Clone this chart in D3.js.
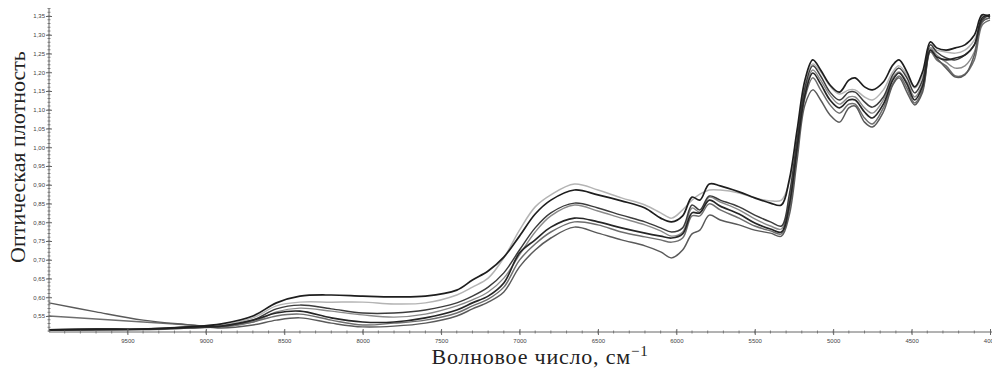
<!DOCTYPE html>
<html><head><meta charset="utf-8">
<script src="https://cdn.jsdelivr.net/npm/d3@7"></script>
<style>html,body{margin:0;padding:0;background:#fff;}svg{display:block;}</style>
</head><body>
<svg id="chart" width="992" height="369"></svg>
<script>
// ---- data ----
const wavenumbers = [10000,9700,9400,9100,8900,8700,8550,8400,8200,8000,7800,7600,7400,7300,7200,7100,7000,6900,6800,6650,6500,6350,6200,6100,6030,5960,5900,5850,5790,5720,5600,5500,5400,5330,5280,5230,5180,5130,5080,5020,4960,4900,4860,4800,4750,4680,4620,4580,4530,4480,4430,4380,4340,4280,4220,4160,4100,4050,4000];
const seriesA = [0.513,0.513,0.515,0.521,0.526,0.545,0.577,0.587,0.587,0.587,0.582,0.585,0.606,0.627,0.651,0.705,0.779,0.841,0.873,0.902,0.886,0.865,0.846,0.825,0.811,0.833,0.859,0.875,0.886,0.886,0.878,0.865,0.857,0.859,0.907,1.033,1.166,1.222,1.201,1.163,1.142,1.153,1.153,1.134,1.126,1.153,1.201,1.217,1.193,1.158,1.190,1.265,1.259,1.254,1.251,1.259,1.286,1.339,1.345];
const seriesB = [0.513,0.515,0.515,0.521,0.529,0.550,0.585,0.603,0.606,0.603,0.601,0.603,0.619,0.646,0.670,0.707,0.763,0.822,0.859,0.886,0.873,0.857,0.838,0.811,0.801,0.817,0.867,0.859,0.902,0.897,0.881,0.865,0.851,0.846,0.913,1.046,1.179,1.233,1.206,1.166,1.147,1.179,1.185,1.161,1.153,1.174,1.219,1.233,1.201,1.161,1.201,1.281,1.265,1.259,1.265,1.273,1.299,1.353,1.347];
const seriesC = [0.513,0.513,0.515,0.518,0.523,0.539,0.569,0.579,0.569,0.558,0.558,0.566,0.585,0.603,0.627,0.665,0.726,0.785,0.825,0.851,0.838,0.819,0.801,0.785,0.774,0.785,0.846,0.833,0.870,0.859,0.841,0.819,0.801,0.790,0.873,1.019,1.158,1.217,1.190,1.147,1.126,1.147,1.147,1.121,1.107,1.134,1.193,1.211,1.185,1.145,1.179,1.273,1.254,1.238,1.233,1.246,1.273,1.339,1.353];
const seriesD = [0.513,0.513,0.513,0.518,0.521,0.534,0.561,0.571,0.563,0.553,0.547,0.555,0.577,0.593,0.614,0.651,0.713,0.774,0.817,0.846,0.830,0.811,0.793,0.777,0.763,0.774,0.838,0.827,0.867,0.854,0.833,0.809,0.790,0.782,0.859,1.006,1.147,1.206,1.179,1.139,1.115,1.134,1.134,1.105,1.091,1.126,1.185,1.201,1.174,1.134,1.169,1.265,1.246,1.227,1.211,1.217,1.254,1.334,1.345];
const seriesE = [0.513,0.515,0.515,0.521,0.523,0.539,0.558,0.563,0.545,0.534,0.534,0.545,0.566,0.585,0.603,0.638,0.718,0.753,0.787,0.811,0.801,0.785,0.771,0.763,0.758,0.769,0.825,0.825,0.859,0.843,0.822,0.798,0.782,0.774,0.846,0.998,1.139,1.198,1.169,1.126,1.105,1.126,1.126,1.094,1.078,1.115,1.179,1.198,1.169,1.126,1.163,1.259,1.241,1.233,1.238,1.246,1.273,1.345,1.353];
const seriesF = [0.550,0.542,0.534,0.526,0.521,0.534,0.550,0.555,0.539,0.526,0.531,0.539,0.558,0.577,0.595,0.627,0.699,0.742,0.774,0.801,0.793,0.774,0.761,0.753,0.747,0.758,0.817,0.817,0.849,0.833,0.811,0.790,0.777,0.769,0.833,0.987,1.131,1.185,1.153,1.113,1.091,1.115,1.115,1.078,1.062,1.105,1.169,1.190,1.158,1.118,1.153,1.254,1.233,1.217,1.190,1.195,1.233,1.326,1.339];
const seriesG = [0.585,0.561,0.539,0.526,0.518,0.526,0.539,0.545,0.531,0.521,0.523,0.531,0.550,0.569,0.587,0.614,0.681,0.726,0.758,0.787,0.771,0.753,0.737,0.721,0.705,0.726,0.769,0.779,0.819,0.806,0.793,0.779,0.771,0.763,0.819,0.966,1.113,1.153,1.126,1.086,1.067,1.105,1.110,1.067,1.054,1.094,1.166,1.185,1.147,1.113,1.147,1.259,1.238,1.211,1.187,1.193,1.246,1.334,1.345];
const seriesNames = ["A","B","C","D","E","F","G"];
const xTicks = [9500,9000,8500,8000,7500,7000,6500,6000,5500,5000,4500,4000];
const yTicks = [0.55,0.60,0.65,0.70,0.75,0.80,0.85,0.90,0.95,1.00,1.05,1.10,1.15,1.20,1.25,1.30,1.35];
const yTitle = "Оптическая плотность";
const xTitle = "Волновое число, см";
const xTitleSup = "−1";

// ---- drawing ----
(function () {
const svg = d3.select("#chart");
const pLeft = 49, pRight = 990, pTop = 9, pBottom = 332;
const x = d3.scaleLinear().domain([10000, 4000]).range([pLeft, pRight]);
const y = d3.scaleLinear().domain([0.55, 1.35]).range([316, 16]);

const allSeries = [seriesA, seriesB, seriesC, seriesD, seriesE, seriesF, seriesG];
const colors = {A:"#b4b4b4", B:"#1e1e1e", C:"#3c3c3c", D:"#8a8a8a", E:"#262626", F:"#6e6e6e", G:"#5a5a5a"};
const widths = {A:1.5, B:1.7, C:1.5, D:1.4, E:1.7, F:1.5, G:1.5};
const order = ["A","D","F","G","C","E","B"];

const line = d3.line()
  .x(d => x(d[0]))
  .y(d => y(d[1]))
  .curve(d3.curveCatmullRom.alpha(0.5));

const g = svg.append("g");
order.forEach(name => {
  const vals = allSeries[seriesNames.indexOf(name)];
  const pts = wavenumbers.map((w, i) => [w, vals[i]]);
  g.append("path").datum(pts)
    .attr("fill", "none")
    .attr("stroke", colors[name])
    .attr("stroke-width", widths[name])
    .attr("stroke-linejoin", "round")
    .attr("d", line);
});

const axisColor = "#666";
svg.append("line").attr("x1", pLeft).attr("x2", pLeft).attr("y1", pTop).attr("y2", pBottom)
  .attr("stroke", axisColor).attr("stroke-width", 1);
svg.append("line").attr("x1", pLeft).attr("x2", pRight + 2).attr("y1", pBottom).attr("y2", pBottom)
  .attr("stroke", axisColor).attr("stroke-width", 1);

const yMinor = d3.range(0.51, 1.37, 0.01);
svg.append("g").selectAll("line").data(yMinor).join("line")
  .attr("x1", pLeft - 1.5).attr("x2", pLeft + 1.5)
  .attr("y1", d => y(d)).attr("y2", d => y(d))
  .attr("stroke", axisColor).attr("stroke-width", 0.8);

const yAxis = d3.axisLeft(y).tickValues(yTicks).tickSize(3)
  .tickFormat(d => d3.format(".2f")(d).replace(".", ","));
const yG = svg.append("g").attr("transform", `translate(${pLeft},0)`).call(yAxis);
yG.select(".domain").remove();
yG.selectAll(".tick line").attr("stroke", axisColor).attr("x2", 3).attr("x1", -3);
yG.selectAll(".tick text").attr("x", -4).attr("font-family", "Liberation Sans, Arial, sans-serif")
  .attr("font-size", 6).attr("fill", "#444");

const xMinor = d3.range(4100, 10000, 100);
svg.append("g").selectAll("line").data(xMinor).join("line")
  .attr("x1", d => x(d)).attr("x2", d => x(d))
  .attr("y1", pBottom - 1.5).attr("y2", pBottom + 1.5)
  .attr("stroke", axisColor).attr("stroke-width", 0.8);

const xAxis = d3.axisBottom(x).tickValues(xTicks).tickSize(3).tickFormat(d => String(d));
const xG = svg.append("g").attr("transform", `translate(0,${pBottom})`).call(xAxis);
xG.select(".domain").remove();
xG.selectAll(".tick line").attr("stroke", axisColor).attr("y1", -3).attr("y2", 3);
xG.selectAll(".tick text").attr("y", 7).attr("font-family", "Liberation Sans, Arial, sans-serif")
  .attr("font-size", 6).attr("fill", "#444");

svg.append("text")
  .attr("transform", "translate(25,157) rotate(-90)")
  .attr("text-anchor", "middle")
  .attr("font-family", "Liberation Serif, Times New Roman, serif")
  .attr("font-size", 22).attr("fill", "#222")
  .text(yTitle);

const xt = svg.append("text")
  .attr("x", 540).attr("y", 364)
  .attr("text-anchor", "middle")
  .attr("font-family", "Liberation Serif, Times New Roman, serif")
  .attr("font-size", 22).attr("letter-spacing", 0.8).attr("fill", "#222");
xt.append("tspan").text(xTitle);
xt.append("tspan").attr("dy", -8).attr("font-size", 15).text(xTitleSup);
})();
</script>
</body></html>
